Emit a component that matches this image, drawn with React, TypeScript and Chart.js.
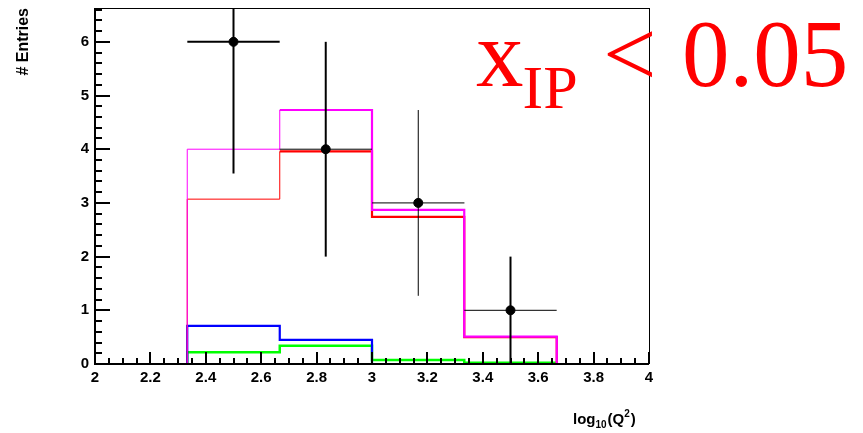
import React, { useEffect, useRef } from "react";
import { Chart, registerables } from "chart.js";

Chart.register(...registerables);

// ---- data ----
const binEdges = [2.333, 2.667, 3.0, 3.333, 3.667];
const magentaValues = [4.0, 4.73, 2.87, 0.51];
const redValues = [3.07, 3.96, 2.74, 0.5];
const blueValues = [0.71, 0.45, 0.0, 0.0];
const greenValues = [0.22, 0.34, 0.075, 0.025];

const dataX = [2.5, 2.833, 3.167, 3.5];
const dataY = [6, 4, 3, 1];
const dataXErr = [0.1667, 0.1667, 0.1667, 0.1667];
const dataYErrLow = [2.45, 2.0, 1.73, 1.0];
const dataYErrHigh = [2.45, 2.0, 1.73, 1.0];

const xTickLabels = ["2", "2.2", "2.4", "2.6", "2.8", "3", "3.2", "3.4", "3.6", "3.8", "4"];
const yTickLabels = ["0", "1", "2", "3", "4", "5", "6"];

const X_MIN = 2;
const X_MAX = 4;
const Y_MIN = 0;
const Y_MAX = 6.63;

// style for error bars (horizontal / vertical widths per point)
const errH = [2, 1, 1, 1];
const errV = [2, 2, 1, 2];

function histPoints(vals: number[]) {
  const pts: { x: number; y: number }[] = [{ x: binEdges[0], y: 0 }];
  vals.forEach((v, i) => pts.push({ x: binEdges[i], y: v }));
  pts.push({ x: binEdges[vals.length], y: vals[vals.length - 1] });
  pts.push({ x: binEdges[vals.length], y: 0 });
  return pts;
}

const SANS = '"Liberation Sans", Arial, Helvetica, sans-serif';
const SERIF = '"Liberation Serif", "Times New Roman", serif';

const decorPlugin = {
  id: "decor",
  afterDatasetsDraw(chart: any) {
    const { ctx, chartArea: a } = chart;
    const xs = chart.scales.x;
    const ys = chart.scales.y;

    // error bars
    ctx.save();
    ctx.beginPath();
    ctx.rect(a.left, a.top, a.right - a.left, a.bottom - a.top);
    ctx.clip();
    ctx.strokeStyle = "#000";
    dataX.forEach((xv, i) => {
      const px = xs.getPixelForValue(xv);
      const py = ys.getPixelForValue(dataY[i]);
      ctx.lineWidth = errH[i];
      ctx.beginPath();
      ctx.moveTo(xs.getPixelForValue(xv - dataXErr[i]), py);
      ctx.lineTo(xs.getPixelForValue(xv + dataXErr[i]), py);
      ctx.stroke();
      ctx.lineWidth = errV[i];
      ctx.beginPath();
      ctx.moveTo(px, ys.getPixelForValue(dataY[i] - dataYErrLow[i]));
      ctx.lineTo(px, ys.getPixelForValue(dataY[i] + dataYErrHigh[i]));
      ctx.stroke();
    });
    ctx.restore();

    // frame
    ctx.save();
    ctx.fillStyle = "#000";
    ctx.fillRect(a.left - 1, a.top, 2, a.bottom - a.top + 1);
    ctx.fillRect(a.left - 1, a.bottom - 1, a.right - a.left + 1, 2);
    ctx.fillRect(a.left - 1, a.top, a.right - a.left + 1, 1);
    ctx.fillRect(a.right, a.top, 1, a.bottom - a.top);

    // y ticks (inward)
    for (let k = 0; ; k++) {
      const v = Y_MIN + k * 0.2;
      if (v > Y_MAX + 1e-9) break;
      const py = Math.round(ys.getPixelForValue(v));
      const len = k % 5 === 0 ? 15 : 7;
      ctx.fillRect(a.left, py - 1, len, 2);
    }
    // x ticks (inward)
    for (let k = 0; ; k++) {
      const v = X_MIN + k * 0.05;
      if (v > X_MAX + 1e-9) break;
      const px = Math.round(xs.getPixelForValue(v));
      const len = k % 4 === 0 ? 12 : 6;
      ctx.fillRect(px - 1, a.bottom - len, 2, len);
    }
    ctx.restore();
  },
  afterDraw(chart: any) {
    const { ctx } = chart;
    ctx.save();
    ctx.fillStyle = "#000";
    // y title
    ctx.save();
    ctx.translate(24, 8);
    ctx.rotate(-Math.PI / 2);
    ctx.font = `bold 16px ${SANS}`;
    ctx.textAlign = "right";
    ctx.textBaseline = "middle";
    ctx.fillText("# Entries", 0, 0);
    ctx.restore();

    // x title: log10(Q^2)
    ctx.textBaseline = "alphabetic";
    ctx.textAlign = "left";
    let cx = 573;
    const base = 424;
    ctx.font = `bold 15px ${SANS}`;
    ctx.fillText("log", cx, base);
    cx += ctx.measureText("log").width;
    ctx.font = `bold 10px ${SANS}`;
    ctx.fillText("10", cx, base + 4);
    cx += ctx.measureText("10").width + 1;
    ctx.font = `bold 15px ${SANS}`;
    ctx.fillText("(Q", cx, base);
    cx += ctx.measureText("(Q").width;
    ctx.font = `bold 10px ${SANS}`;
    ctx.fillText("2", cx, base - 7);
    cx += ctx.measureText("2").width + 1;
    ctx.font = `bold 15px ${SANS}`;
    ctx.fillText(")", cx, base);

    // red annotation
    ctx.fillStyle = "#ff0000";
    ctx.font = `95px ${SERIF}`;
    ctx.fillText("x", 476, 86);
    const xw = ctx.measureText("x").width;
    ctx.font = `62px ${SERIF}`;
    ctx.fillText("IP", 475 + xw, 108);
    ctx.font = `95px ${SERIF}`;
    ctx.fillText("<", 603, 86);
    ctx.fillText("0.05", 682, 86);
    ctx.restore();
  },
};

export default function App() {
  const canvasRef = useRef<HTMLCanvasElement | null>(null);

  useEffect(() => {
    const canvas = canvasRef.current;
    if (!canvas) return;
    const thinFirst = (ctx: any) => (ctx.p0DataIndex <= 1 ? 1 : 2.2);
    const chart = new Chart(canvas, {
      type: "line",
      data: {
        datasets: [
          {
            type: "scatter",
            label: "data",
            data: dataX.map((x, i) => ({ x, y: dataY[i] })),
            backgroundColor: "#000",
            borderColor: "#000",
            pointRadius: 4.5,
            pointStyle: "circle",
            showLine: false,
            order: 0,
          } as any,
          {
            label: "magenta",
            data: histPoints(magentaValues),
            borderColor: "#ff00ff",
            borderWidth: 2.2,
            stepped: "before",
            pointRadius: 0,
            fill: false,
            order: 1,
            segment: { borderWidth: thinFirst },
          } as any,
          {
            label: "red",
            data: histPoints(redValues),
            borderColor: "#ff0000",
            borderWidth: 2.2,
            stepped: "before",
            pointRadius: 0,
            fill: false,
            order: 2,
            segment: { borderWidth: thinFirst },
          } as any,
          {
            label: "blue",
            data: histPoints(blueValues),
            borderColor: "#0000ff",
            borderWidth: 2.2,
            stepped: "before",
            pointRadius: 0,
            fill: false,
            order: 3,
          } as any,
          {
            label: "green",
            data: histPoints(greenValues),
            borderColor: "#00ff00",
            borderWidth: 2.5,
            stepped: "before",
            pointRadius: 0,
            fill: false,
            order: 4,
          } as any,
        ],
      },
      options: {
        responsive: false,
        animation: false,
        devicePixelRatio: 1,
        layout: { autoPadding: false, padding: { top: 8, right: 214, left: 0, bottom: 0 } },
        plugins: { legend: { display: false }, tooltip: { enabled: false } },
        scales: {
          x: {
            type: "linear",
            min: X_MIN,
            max: X_MAX,
            grid: { display: false, drawTicks: false },
            border: { display: false },
            afterFit: (s: any) => {
              s.height = 69;
              s.paddingLeft = 0;
              s.paddingRight = 0;
            },
            afterBuildTicks: (s: any) => {
              s.ticks = xTickLabels.map((l) => ({ value: parseFloat(l) }));
            },
            ticks: {
              padding: 5,
              color: "#000",
              font: { family: SANS, size: 15, weight: "bold" },
              maxRotation: 0,
              autoSkip: false,
              callback: (v: any) => {
                const f = xTickLabels.find((l) => Math.abs(parseFloat(l) - v) < 1e-6);
                return f ?? "";
              },
            },
          },
          y: {
            type: "linear",
            min: Y_MIN,
            max: Y_MAX,
            grid: { display: false, drawTicks: false },
            border: { display: false },
            afterFit: (s: any) => {
              s.width = 95;
              s.paddingTop = 0;
              s.paddingBottom = 0;
            },
            afterBuildTicks: (s: any) => {
              s.ticks = yTickLabels.map((l) => ({ value: parseFloat(l) }));
            },
            ticks: {
              padding: 6,
              color: "#000",
              font: { family: SANS, size: 15, weight: "bold" },
              autoSkip: false,
              callback: (v: any) => {
                const f = yTickLabels.find((l) => Math.abs(parseFloat(l) - v) < 1e-6);
                return f ?? "";
              },
            },
          },
        },
      } as any,
      plugins: [decorPlugin],
    });
    return () => chart.destroy();
  }, []);

  return (
    <div style={{ position: "absolute", left: 0, top: 0, width: 863, height: 433, background: "#fff" }}>
      <canvas ref={canvasRef} width={863} height={433} style={{ display: "block" }} />
    </div>
  );
}
